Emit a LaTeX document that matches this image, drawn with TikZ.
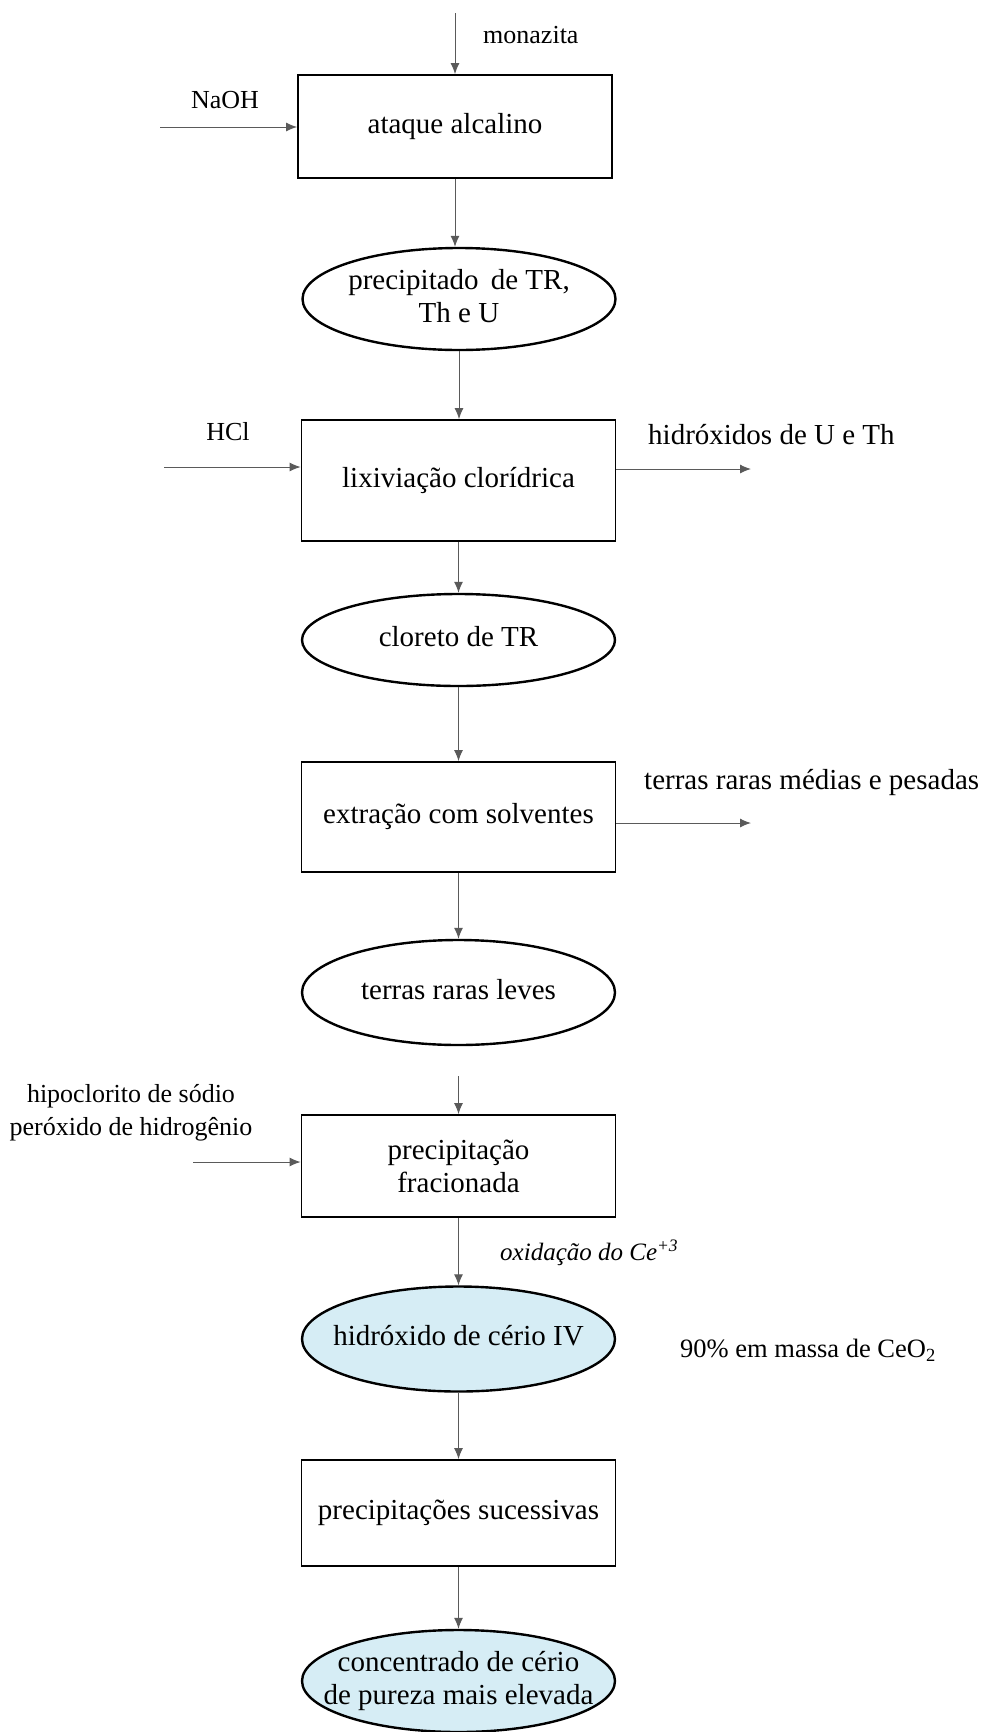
\documentclass[tikz,border=0pt]{standalone}
\usepackage{fontspec}
\setmainfont{Liberation Serif}
\usetikzlibrary{shapes.geometric,arrows.meta}
\definecolor{ceblue}{RGB}{214,237,245}
\definecolor{linegray}{RGB}{90,90,90}
\newcommand{\zw}[1]{\makebox[0pt][c]{\begin{tabular}{@{}c@{}}#1\end{tabular}}}
\tikzset{
  stepbox/.style={draw=black, line width=1.8pt, rectangle, minimum width=314pt, inner sep=0pt, align=center, font=\fontsize{29}{33}\selectfont},
  oval/.style={draw=black, line width=2.4pt, ellipse, minimum width=313pt, minimum height=102pt, inner sep=0pt, align=center, font=\fontsize{29}{33}\selectfont},
  blueoval/.style={oval, fill=ceblue},
  lbl/.style={inner sep=0pt, align=center, font=\fontsize{26}{33}\selectfont},
  rlbl/.style={inner sep=0pt, anchor=west, font=\fontsize{29}{33}\selectfont},
  flow/.style={draw=linegray, line width=1pt, -{Latex[length=11pt,width=9pt]}},
}
\begin{document}
\begin{tikzpicture}[x=1pt,y=-1pt]
\useasboundingbox (0,0) rectangle (982,1732);
% main nodes
\node[stepbox, minimum height=103pt] (b1) at (455,126.5) {ataque alcalino};
\node[oval] (e1) at (459,299) {\zw{precipitado\, de TR,\\Th e U}};
\node[stepbox, minimum height=121pt] (b2) at (458.5,480.5) {lixivia\c{c}\~ao clor\'idrica};
\node[oval, minimum height=92pt] (e2) at (458.5,640) {\zw{cloreto de TR}};
\node[stepbox, minimum height=110pt] (b3) at (458.5,817) {extra\c{c}\~ao com solventes};
\node[oval, minimum height=105pt] (e3) at (458.5,992.5) {\zw{terras raras leves}};
\node[stepbox, minimum height=102pt] (b4) at (458.5,1166) {precipita\c{c}\~ao\\fracionada};
\node[blueoval, minimum height=105pt] (e4) at (458.5,1339) {\zw{hidr\'oxido de c\'erio IV}};
\node[stepbox, minimum height=106pt] (b5) at (458.5,1513) {precipita\c{c}\~oes sucessivas};
\node[blueoval, minimum height=102pt] (e5) at (458.5,1681) {\zw{concentrado de c\'erio\\de pureza mais elevada}};
% labels
\node[lbl, anchor=west] (mon) at (483,35) {monazita};
\node[lbl] (naohl) at (225,100) {NaOH};
\node[lbl] (hcll) at (228,432) {HCl};
\node[lbl] (hipo) at (131,1113) {hipoclorito de s\'odio\\per\'oxido de hidrog\^enio};
\node[rlbl] (hidr) at (648,435) {hidr\'oxidos de U e Th};
\node[rlbl] (trmp) at (644,782) {terras raras m\'edias e pesadas};
\node[inner sep=0pt, anchor=west, font=\fontsize{25}{30}\selectfont\itshape] (oxi) at (500,1253) {oxida\c{c}\~ao do Ce\textsuperscript{+3}};
\node[inner sep=0pt, anchor=west, font=\fontsize{26.5}{30}\selectfont] (ceo) at (680,1350) {90\% em massa de CeO\textsubscript{2}};
% free ends
\coordinate (monin) at (455,13);
\coordinate (naohin) at (160,127);
\coordinate (hclin) at (164,467);
\coordinate (hipoin) at (193,1162);
\coordinate (hidrout) at (751,469);
\coordinate (trmpout) at (751,823);
% connectors
\draw[flow] (monin) -- (b1.north);
\draw[flow] (naohin) -- (b1.west |- naohin);
\draw[flow] (b1.south) -- (b1.south |- e1.north);
\draw[flow] (e1.south) -- (e1.south |- b2.north);
\draw[flow] (hclin) -- (b2.west |- hclin);
\draw[flow] (b2.east |- hidrout) -- (hidrout);
\draw[flow] (b2.south) -- (e2.north);
\draw[flow] (e2.south) -- (b3.north);
\draw[flow] (b3.east |- trmpout) -- (trmpout);
\draw[flow] (b3.south) -- (e3.north);
\draw[flow, shorten <=30pt] (e3.south) -- (b4.north);
\draw[flow] (hipoin) -- (b4.west |- hipoin);
\draw[flow] (b4.south) -- (e4.north);
\draw[flow] (e4.south) -- (b5.north);
\draw[flow] (b5.south) -- (e5.north);
\end{tikzpicture}
\end{document}
